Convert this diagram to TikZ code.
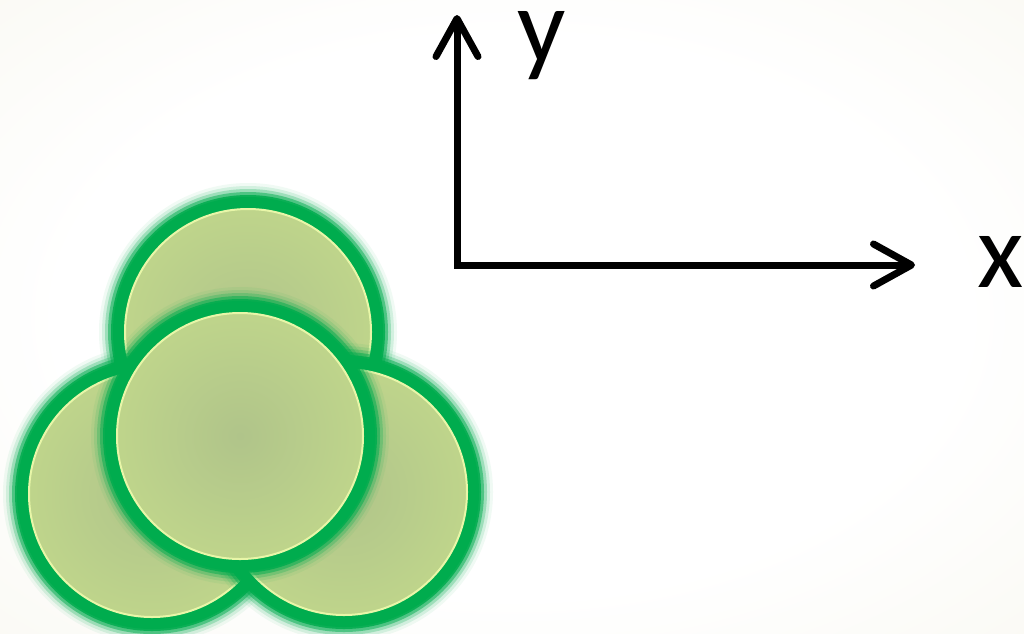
\documentclass[tikz,border=0pt]{standalone}
\usepackage{fontspec}
\setmainfont{Carlito}
\usepackage{tikz}
\usetikzlibrary{arrows.meta}

\definecolor{ballgreen}{RGB}{0,172,78}
\definecolor{ballmid}{RGB}{176,196,138}
\definecolor{ballrim}{RGB}{198,221,140}
\definecolor{ballline}{RGB}{232,246,168}
\definecolor{bgedge}{RGB}{239,237,220}

\pgfdeclareradialshading{ballshade}{\pgfpoint{0bp}{0bp}}{color(0bp)=(ballmid); color(38bp)=(ballrim); color(50bp)=(ballrim)}
\pgfdeclareradialshading{bgshade}{\pgfpoint{0bp}{0bp}}{color(0bp)=(white); color(22bp)=(white); color(70bp)=(bgedge)}

\tikzset{
  glow/.style={draw=ballgreen},
  ballfill/.style={shading=ballshade},
  rim/.style={draw=ballline, line width=0.05cm},
  axis/.style={line width=0.175cm, line join=miter,
    {Straight Barb[length=0.95cm, width=1.05cm, round]}-{Straight Barb[length=0.95cm, width=1.05cm, round]}},
  axislabel/.style={inner sep=0pt, anchor=base west, text height=0.47em, text depth=0.2em,
    font=\fontsize{76}{76}\selectfont}
}

\begin{document}
\begin{tikzpicture}[x=0.025cm, y=-0.025cm]
\useasboundingbox (0,0) rectangle (1024,633);

% Background
\shade[shading=bgshade] (0,0) rectangle (1024,633);

% Balls: top, left, right, front
\foreach \cx/\cy in {248/332, 152/494, 344/492, 240/436} {
  \foreach \w/\o in {40/0.06, 34/0.12, 28/0.25, 22/0.5, 16/0.85, 12/1}
    \draw[glow, line width=\w*0.025cm, opacity=\o] (\cx,\cy) circle (129);
  \shade[ballfill] (\cx,\cy) circle (123);
  \draw[rim] (\cx,\cy) circle (123);
}

% Axes
\coordinate (o) at (457,265);
\coordinate (xend) at (915,265);
\coordinate (yend) at (457,15);
\draw[axis] (yend) -- (o) -- (xend);

\node[axislabel] (xlab) at (977,287) {x};
\node[axislabel] (ylab) at (517,62) {y};
\end{tikzpicture}
\end{document}
